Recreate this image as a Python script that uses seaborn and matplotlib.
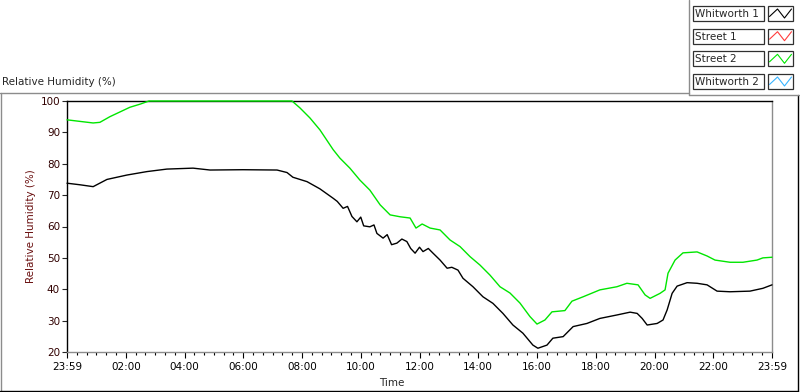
"""
Relative humidity over one day, Whitworth vs Street sensors.
Recreates a LabVIEW style waveform chart with seaborn.
"""

import numpy as np
import pandas as pd
import matplotlib
matplotlib.use('Agg')
import matplotlib.pyplot as plt
from matplotlib.patches import Rectangle
from matplotlib.ticker import MultipleLocator, FixedLocator
import seaborn as sns

# ---- data (hours after 23:59, % RH) ----
street2_hours = [0.00, 0.44, 0.89, 1.12, 1.46, 1.80, 2.14, 2.49, 2.79, 4.50, 6.50, 7.66,
                 7.93, 8.27, 8.61, 9.06, 9.29, 9.63, 9.97, 10.31, 10.66, 11.00, 11.34,
                 11.68, 11.88, 12.09, 12.36, 12.70, 13.04, 13.38, 13.72, 14.06, 14.40,
                 14.74, 15.08, 15.42, 15.76, 16.00, 16.27, 16.51, 16.95, 17.19, 17.57,
                 18.14, 18.72, 19.06, 19.44, 19.68, 19.85, 20.19, 20.36, 20.46, 20.70,
                 20.97, 21.45, 21.79, 22.06, 22.57, 23.01, 23.49, 23.69, 24.00]
street2_rh = [94.0, 93.5, 93.0, 93.2, 95.0, 96.5, 98.0, 99.0, 100.0, 100.0, 100.0, 100.0,
              97.8, 94.6, 90.8, 84.5, 81.8, 78.6, 74.8, 71.6, 66.9, 63.7, 63.1,
              62.7, 59.5, 60.8, 59.5, 58.9, 55.7, 53.6, 50.4, 47.7, 44.5,
              40.8, 38.8, 35.6, 31.3, 28.9, 30.2, 32.8, 33.2, 36.2, 37.6,
              39.8, 40.8, 41.9, 41.4, 38.2, 37.1, 38.7, 39.8, 45.1, 49.3,
              51.6, 51.9, 50.6, 49.3, 48.6, 48.6, 49.3, 50.0, 50.2]

whitworth1_hours = [0.00, 0.44, 0.89, 1.36, 2.04, 2.72, 3.40, 4.29, 4.87, 5.99, 7.15,
                    7.49, 7.69, 8.17, 8.61, 9.06, 9.20, 9.40, 9.55, 9.70, 9.87, 10.00,
                    10.10, 10.31, 10.45, 10.55, 10.76, 10.90, 11.05, 11.23, 11.40, 11.57,
                    11.70, 11.85, 12.00, 12.12, 12.30, 12.46, 12.70, 12.94, 13.10, 13.31,
                    13.48, 13.82, 14.16, 14.50, 14.84, 15.18, 15.52, 15.86, 16.03, 16.34,
                    16.54, 16.89, 17.23, 17.70, 18.14, 18.72, 19.17, 19.41, 19.58, 19.75,
                    20.09, 20.29, 20.43, 20.60, 20.77, 21.11, 21.45, 21.79, 22.13, 22.57,
                    23.25, 23.69, 24.00]
whitworth1_rh = [73.8, 73.3, 72.7, 75.0, 76.4, 77.5, 78.3, 78.6, 78.0, 78.1, 78.0,
                 77.2, 75.7, 74.3, 72.0, 69.0, 68.0, 65.8, 66.4, 63.2, 61.5, 63.0,
                 60.2, 59.9, 60.5, 57.8, 56.3, 57.4, 54.2, 54.7, 56.0, 55.2,
                 53.0, 51.5, 53.4, 52.0, 53.0, 51.5, 49.3, 46.7, 47.0, 46.1,
                 43.5, 40.8, 37.6, 35.5, 32.3, 28.6, 26.0, 22.2, 21.2, 22.2,
                 24.4, 24.9, 28.1, 29.1, 30.7, 31.8, 32.7, 32.3, 30.7, 28.6,
                 29.1, 30.2, 33.4, 38.7, 41.0, 42.1, 41.9, 41.4, 39.4, 39.2,
                 39.4, 40.3, 41.4]

legend_names = ['Whitworth 1', 'Street 1', 'Street 2', 'Whitworth 2']
legend_colors = ['#000000', '#ff3c3c', '#00e600', '#38b4ff']
x_tick_labels = ['23:59', '02:00', '04:00', '06:00', '08:00', '10:00', '12:00',
                 '14:00', '16:00', '18:00', '20:00', '22:00', '23:59']
y_ticks = [20, 30, 40, 50, 60, 70, 80, 90, 100]

df = pd.concat([
    pd.DataFrame({'hours': whitworth1_hours, 'rh': whitworth1_rh, 'sensor': 'Whitworth 1'}),
    pd.DataFrame({'hours': street2_hours, 'rh': street2_rh, 'sensor': 'Street 2'}),
], ignore_index=True)

sns.set_style('white')
plt.rcParams['font.family'] = ['DejaVu Sans']
plt.rcParams['font.size'] = 7.5

W, H = 800, 392
fig = plt.figure(figsize=(W / 100, H / 100), dpi=100)

# overlay in pixel coordinates for the panel frames and the legend
deco = fig.add_axes([0, 0, 1, 1])
deco.set_xlim(0, W)
deco.set_ylim(H, 0)
deco.axis('off')
grey = '#8c8c8c'
deco.plot([0, 689], [92.5, 92.5], color=grey, lw=1)
deco.plot([1, 1], [92.5, 391], color=grey, lw=1)
deco.plot([0, 798], [391, 391], color='black', lw=1)
deco.plot([798, 798], [95, 391], color='black', lw=1)
deco.plot([689, 689], [0, 95], color=grey, lw=1)
deco.plot([689, 799], [95, 95], color=grey, lw=1)

deco.text(2, 82, 'Relative Humidity (%)', ha='left', va='center', fontsize=7.5)

row_tops = [6, 28.7, 51.3, 74]
for top, name, col in zip(row_tops, legend_names, legend_colors):
    deco.add_patch(Rectangle((692.5, top), 71, 15, fill=False, ec='#303030', lw=0.9))
    deco.text(695, top + 7.8, name, ha='left', va='center', fontsize=7.5)
    deco.add_patch(Rectangle((767.5, top), 25.5, 15, fill=False, ec='#303030', lw=0.9))
    zx = [769.5, 777.5, 784.5, 791.5]
    zy = [top + 10.5, top + 3, top + 12, top + 3]
    deco.plot(zx, zy, color=col, lw=0.8)

# main chart
ax = fig.add_axes([67 / W, 1 - 352 / H, 705 / W, 251 / H])
sns.lineplot(data=df, x='hours', y='rh', hue='sensor',
             palette={'Whitworth 1': legend_colors[0], 'Street 2': legend_colors[2]},
             estimator=None, sort=False, legend=False, lw=1.0, ax=ax)
for ln in ax.lines:
    ln.set_clip_on(False)
    ln.set_zorder(3)

ax.set_xlim(0, 24)
ax.set_ylim(20, 100)
ax.xaxis.set_major_locator(FixedLocator(list(range(0, 25, 2))))
ax.set_xticklabels(x_tick_labels)
ax.xaxis.set_minor_locator(MultipleLocator(1 / 3))
ax.set_yticks(y_ticks)
ax.set_yticklabels([str(v) for v in y_ticks], color='#300000')

ax.tick_params(axis='x', which='major', direction='out', length=4, width=0.8,
               pad=3, colors='black', labelsize=7.5, bottom=True)
ax.tick_params(axis='x', which='minor', direction='out', length=2.2, width=0.8,
               colors='black', bottom=True)
ax.tick_params(axis='y', which='major', direction='out', length=3.5, width=0.8,
               pad=1.5, labelsize=7.5, left=True)

for side in ['left', 'top']:
    ax.spines[side].set_color('black')
    ax.spines[side].set_linewidth(1.0)
for side in ['right', 'bottom']:
    ax.spines[side].set_color(grey)
    ax.spines[side].set_linewidth(1.0)

ax.set_xlabel('Time', fontsize=7.5)
ax.xaxis.set_label_coords(0.46, -0.105)
ax.set_ylabel('Relative Humidity (%)', fontsize=7.5, color='#6a1010')
ax.yaxis.set_label_coords(-0.044, 0.5)

fig.savefig('out.png', dpi=100)
plt.close(fig)
